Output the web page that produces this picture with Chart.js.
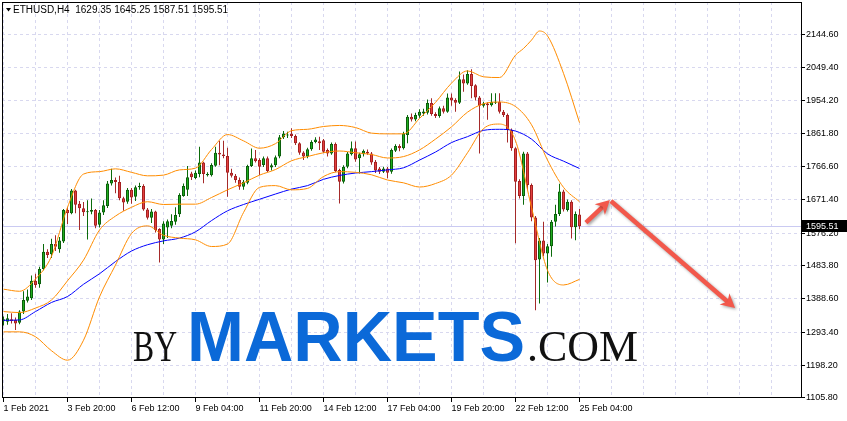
<!DOCTYPE html>
<html lang="en">
<head>
<meta charset="UTF-8">
<title>ETHUSD H4</title>
<script src="https://cdn.jsdelivr.net/npm/chart.js"></script>
<style>
  html, body { margin: 0; padding: 0; background: #fff; }
  canvas { display: block; }
</style>
</head>
<body>
<canvas id="chart" width="847" height="421"></canvas>
<script>
// --- candles, one per H4 bar ---
const opens = [1324,1323,1330,1328,1320,1352,1383,1390,1440,1430,1474,1523,1516,1545,1530,1552,1642,1633,1698,1660,
  1647,1636,1637,1642,1600,1635,1654,1718,1728,1722,1676,1666,1700,1680,1707,1711,1644,1620,1638,1588,
  1558,1592,1597,1609,1630,1682,1700,1747,1734,1745,1778,1742,1742,1769,1806,1801,1797,1749,1740,1728,
  1709,1720,1768,1790,1785,1771,1790,1764,1770,1795,1850,1855,1860,1854,1833,1807,1795,1816,1837,1839,
  1842,1814,1804,1831,1757,1723,1766,1802,1819,1790,1802,1809,1804,1780,1761,1752,1761,1752,1812,1825,
  1819,1857,1909,1901,1912,1918,1920,1948,1917,1911,1933,1923,1964,1957,1949,2016,2004,2031,1999,1964,
  1940,1947,1942,1949,1952,1923,1914,1871,1819,1725,1682,1804,1714,1621,1501,1555,1518,1539,1609,1631,
  1695,1642,1666,1593,1629.35];
const highs = [1338,1345,1347,1335,1356,1410,1415,1455,1460,1480,1545,1530,1560,1570,1565,1645,1650,1702,1700,1668,
  1665,1670,1675,1645,1642,1670,1725,1760,1735,1740,1680,1705,1705,1712,1720,1716,1648,1645,1640,1590,
  1610,1615,1630,1650,1690,1718,1768,1752,1755,1823,1780,1750,1776,1823,1840,1840,1820,1760,1745,1735,
  1728,1772,1818,1814,1790,1795,1795,1775,1798,1857,1868,1866,1876,1858,1836,1810,1820,1842,1850,1852,
  1845,1818,1835,1835,1760,1770,1808,1838,1838,1806,1815,1815,1808,1785,1765,1766,1765,1818,1830,1830,
  1866,1914,1918,1920,1930,1932,1958,1962,1922,1938,1940,1975,1975,1962,2038,2030,2042,2045,2002,1968,
  1952,1950,1976,1976,1976,1928,1918,1875,1822,1730,1809,1808,1718,1625,1562,1609,1545,1614,1657,1717,
  1700,1672,1670,1638,1645.25];
const lows = [1312,1314,1318,1299,1316,1345,1378,1385,1420,1420,1470,1505,1505,1525,1520,1548,1602,1630,1633,1585,
  1625,1558,1630,1590,1592,1628,1648,1712,1690,1670,1640,1660,1660,1668,1700,1640,1615,1605,1578,1492,
  1545,1562,1590,1600,1622,1680,1682,1728,1730,1736,1719,1738,1738,1766,1770,1790,1680,1735,1720,1700,
  1700,1716,1765,1778,1742,1765,1750,1755,1765,1790,1845,1848,1848,1828,1800,1785,1790,1812,1833,1814,
  1805,1795,1800,1750,1661,1718,1762,1798,1780,1747,1795,1800,1772,1748,1745,1748,1733,1746,1808,1810,
  1815,1833,1895,1896,1906,1912,1915,1912,1905,1906,1918,1920,1940,1923,1945,1980,2000,1962,1955,1804,
  1935,1900,1938,1945,1918,1908,1835,1812,1547,1675,1657,1700,1610,1356,1375,1510,1435,1509,1595,1625,
  1638,1638,1561,1556,1587.51];
const closes = [1330,1333,1325,1318,1352,1385,1395,1440,1428,1474,1523,1514,1545,1537,1555,1642,1633,1698,1657,1647,
  1636,1638,1642,1597,1635,1656,1718,1728,1722,1676,1664,1700,1678,1707,1711,1644,1620,1638,1585,1558,
  1604,1610,1611,1628,1685,1711,1736,1736,1749,1778,1745,1745,1771,1806,1801,1797,1749,1740,1728,1709,
  1723,1768,1790,1782,1766,1790,1754,1770,1793,1850,1861,1857,1854,1833,1806,1795,1816,1837,1844,1833,
  1809,1804,1831,1754,1723,1766,1804,1819,1787,1802,1812,1804,1778,1755,1752,1761,1749,1814,1825,1819,
  1861,1909,1901,1914,1923,1924,1948,1917,1911,1933,1923,1964,1955,1949,2016,2004,2031,1997,1964,1940,
  1947,1942,1952,1952,1923,1914,1871,1819,1723,1682,1804,1714,1621,1499,1555,1518,1539,1609,1631,1695,
  1644,1666,1593,1631,1595.51];

// time labels sit on every 16th bar, grid lines on every 8th
const timeLabels = ['1 Feb 2021','3 Feb 20:00','6 Feb 12:00','9 Feb 04:00','11 Feb 20:00',
  '14 Feb 12:00','17 Feb 04:00','19 Feb 20:00','22 Feb 12:00','25 Feb 04:00'];
const gridBars = [0,8,16,24,32,40,48,56,64,72,80,88,96,104,112,120,128,136,144,152,160,168,176,184,192];
const priceTicks = [1105.8,1198.2,1293.4,1388.6,1483.8,1576.2,1671.4,1766.6,1861.8,1954.2,2049.4,2144.6];

// indicator lines, read every 4th bar (upper band gets two extra readings round its peak)
const bandX = [0,4,8,12,16,20,24,28,32,36,40,44,48,52,56,60,64,68,72,76,80,84,88,92,96,100,104,108,112,116,120,124,128,132,136,140,144];
const upperX = [0,4,8,12,16,20,24,28,32,36,40,44,48,52,56,60,64,68,72,76,80,84,88,92,96,100,104,108,112,116,120,124,128,130,132,134,136,140,144];
const upperBand = [1416,1410,1445,1510,1650,1745,1752,1760,1750,1740,1742,1757,1762,1815,1858,1840,1819,1832,1869,1873,
  1881,1884,1878,1862,1860,1860,1904,1950,2005,2040,2023,2021,2085,2104,2128,2154,2140,2033,1892];
const middleBand = [1352,1349,1362,1385,1440,1499,1585,1625,1650,1666,1658,1659,1659,1678,1700,1720,1742,1758,1783,1795,
  1806,1811,1806,1801,1791,1795,1814,1845,1880,1922,1946,1951,1938,1886,1785,1707,1666];
const lowerBand = [1294,1294,1280,1240,1213,1270,1394,1485,1575,1597,1570,1562,1557,1538,1545,1635,1707,1712,1700,1704,
  1738,1752,1750,1743,1728,1720,1708,1718,1742,1806,1875,1888,1840,1650,1470,1428,1444];
const maLine = [1327,1328,1352,1378,1395,1430,1460,1495,1525,1543,1554,1562,1580,1612,1640,1658,1673,1688,1702,1712,
  1730,1741,1748,1752,1757,1763,1785,1808,1835,1852,1870,1873,1868,1845,1803,1782,1761];

// forecast arrows (bar index / price)
const arrowX = [145.6, 151.6, 182.9];
const arrowY = [1606, 1671, 1362];

const UP_FILL = '#1fae1f', UP_LINE = '#0b5e0b';
const DN_FILL = '#e34040', DN_LINE = '#a52020';
const GRID = '#d8d8ef';
const FONT = "'Liberation Sans', Arial, sans-serif";
const last = closes.length - 1;
const isUp = i => closes[i] >= opens[i];

function fitText(ctx, text, font, left, right, baseline) {
  ctx.font = font;
  const w = ctx.measureText(text).width;
  ctx.save();
  ctx.translate(left, baseline);
  ctx.scale((right - left) / w, 1);
  ctx.fillText(text, 0, 0);
  ctx.restore();
}

function drawArrow(ctx, x0, y0, x1, y1) {
  const a = Math.atan2(y1 - y0, x1 - x0);
  const c = Math.cos(a), s = Math.sin(a);
  const len = 14, half = 7.5;
  ctx.beginPath();
  ctx.moveTo(x0, y0);
  ctx.lineTo(x1 - 9 * c, y1 - 9 * s);
  ctx.stroke();
  ctx.beginPath();
  ctx.moveTo(x1, y1);
  ctx.lineTo(x1 - len * c + half * s, y1 - len * s - half * c);
  ctx.lineTo(x1 - 10 * c, y1 - 10 * s);
  ctx.lineTo(x1 - len * c - half * s, y1 - len * s + half * c);
  ctx.closePath();
  ctx.fill();
}

const decor = {
  id: 'decor',
  beforeDatasetsDraw(chart) {
    // bid line
    const {ctx, chartArea: a, scales: {y}} = chart;
    const py = Math.round(y.getPixelForValue(closes[last])) + 0.5;
    ctx.save();
    ctx.strokeStyle = '#cacaf2';
    ctx.lineWidth = 1;
    ctx.beginPath();
    ctx.moveTo(a.left, py);
    ctx.lineTo(a.right, py);
    ctx.stroke();
    ctx.restore();
  },
  afterDraw(chart) {
    const {ctx, chartArea: a, scales: {x, y}} = chart;

    // watermark
    ctx.save();
    ctx.filter = 'blur(0.6px)';
    ctx.fillStyle = '#111';
    fitText(ctx, 'BY', "44px 'Liberation Serif', 'Times New Roman', serif", 133, 177, 361);
    fitText(ctx, '.COM', "44px 'Liberation Serif', 'Times New Roman', serif", 527, 638, 361);
    ctx.fillStyle = '#0b69d8';
    fitText(ctx, 'MARKETS', "bold 71px 'Liberation Sans', Arial, sans-serif", 187, 525, 361);
    ctx.restore();

    // arrows
    ctx.save();
    ctx.strokeStyle = '#f2584b';
    ctx.fillStyle = '#f2584b';
    ctx.lineWidth = 4.5;
    ctx.shadowColor = 'rgba(0,0,0,0.35)';
    ctx.shadowBlur = 3;
    ctx.shadowOffsetX = 1.5;
    ctx.shadowOffsetY = 1.5;
    const px = arrowX.map(v => x.getPixelForValue(v));
    const pyA = arrowY.map(v => y.getPixelForValue(v));
    drawArrow(ctx, px[0], pyA[0], px[1], pyA[1]);
    drawArrow(ctx, px[1] + 1, pyA[1] + 1, px[2], pyA[2]);
    ctx.restore();

    // frame
    ctx.save();
    ctx.strokeStyle = '#000';
    ctx.lineWidth = 1;
    ctx.strokeRect(a.left + 0.5, a.top + 0.5, a.right - a.left, a.bottom - a.top - 1);
    ctx.restore();

    // symbol header
    ctx.save();
    ctx.fillStyle = '#000';
    ctx.beginPath();
    ctx.moveTo(6, 8); ctx.lineTo(11, 8); ctx.lineTo(8.5, 11.5); ctx.closePath();
    ctx.fill();
    ctx.font = '10px ' + FONT;
    ctx.textBaseline = 'alphabetic';
    ctx.fillText('ETHUSD,H4  ' + [opens[last], highs[last], lows[last], closes[last]].map(v => v.toFixed(2)).join(' '), 13, 13);
    ctx.restore();

    // current price tag
    const py = Math.round(y.getPixelForValue(closes[last]));
    ctx.save();
    ctx.fillStyle = '#000';
    ctx.fillRect(a.right + 1, py - 6, 45, 12);
    ctx.fillStyle = '#fff';
    ctx.font = '9px ' + FONT;
    ctx.textBaseline = 'middle';
    ctx.fillText(closes[last].toFixed(2), a.right + 5, py + 0.5);
    ctx.restore();
  }
};

const lineSet = (label, xs, values, color) => ({
  type: 'line',
  label,
  data: xs.map((b, k) => ({x: b, y: values[k]})),
  borderColor: color,
  borderWidth: 1,
  pointRadius: 0,
  cubicInterpolationMode: 'monotone',
  fill: false
});

const labeled = v => v % 16 === 0 && v / 16 < timeLabels.length;

new Chart(document.getElementById('chart'), {
  type: 'bar',
  data: {
    datasets: [
      lineSet('Upper', upperX, upperBand, '#ff8c00'),
      lineSet('Middle', bandX, middleBand, '#ff8c00'),
      lineSet('Lower', bandX, lowerBand, '#ff8c00'),
      lineSet('MA', bandX, maLine, '#0000ff'),
      {
        label: 'Body',
        data: closes.map((c, i) => ({x: i, y: [opens[i], c]})),
        backgroundColor: c => isUp(c.dataIndex) ? UP_FILL : DN_FILL,
        borderColor: c => isUp(c.dataIndex) ? UP_LINE : DN_LINE,
        borderWidth: 1,
        borderSkipped: false,
        barThickness: 3,
        minBarLength: 1,
        grouped: false,
        inflateAmount: 0
      },
      {
        label: 'Wick',
        data: closes.map((c, i) => ({x: i, y: [lows[i], highs[i]]})),
        backgroundColor: c => isUp(c.dataIndex) ? '#0b6b0b' : '#a52a2a',
        borderWidth: 0,
        barThickness: 1,
        grouped: false,
        inflateAmount: 0
      }
    ]
  },
  options: {
    responsive: false,
    animation: false,
    devicePixelRatio: 1,
    layout: {padding: {left: 2, top: 2, right: 0, bottom: 0}},
    plugins: {legend: {display: false}, tooltip: {enabled: false}},
    scales: {
      x: {
        type: 'linear',
        offset: false,
        min: -0.375,
        max: 199.375,
        afterBuildTicks: s => { s.ticks = gridBars.map(v => ({value: v})); },
        afterFit: s => { s.height = 23; s.paddingLeft = 0; s.paddingRight = 0; },
        ticks: {
          autoSkip: false,
          maxRotation: 0,
          minRotation: 0,
          align: 'start',
          padding: 1,
          color: '#000',
          font: {family: FONT, size: 9},
          callback: v => labeled(v) ? timeLabels[v / 16] : ''
        },
        grid: {
          offset: false,
          color: GRID,
          tickColor: c => (c.tick && labeled(c.tick.value)) ? '#000' : 'rgba(0,0,0,0)',
          tickLength: 4,
          tickBorderDash: []
        },
        border: {display: false, dash: [3, 3]}
      },
      y: {
        type: 'linear',
        position: 'right',
        min: 1104.9,
        max: 2236.9,
        afterBuildTicks: s => { s.ticks = priceTicks.map(v => ({value: v})); },
        afterFit: s => { s.width = 46; s.paddingTop = 0; s.paddingBottom = 0; },
        ticks: {
          padding: 1,
          color: '#000',
          font: {family: FONT, size: 9},
          callback: v => v.toFixed(2)
        },
        grid: {
          color: GRID,
          tickColor: '#000',
          tickLength: 4,
          tickBorderDash: []
        },
        border: {display: false, dash: [3, 3]}
      }
    }
  },
  plugins: [decor]
});
</script>
</body>
</html>
